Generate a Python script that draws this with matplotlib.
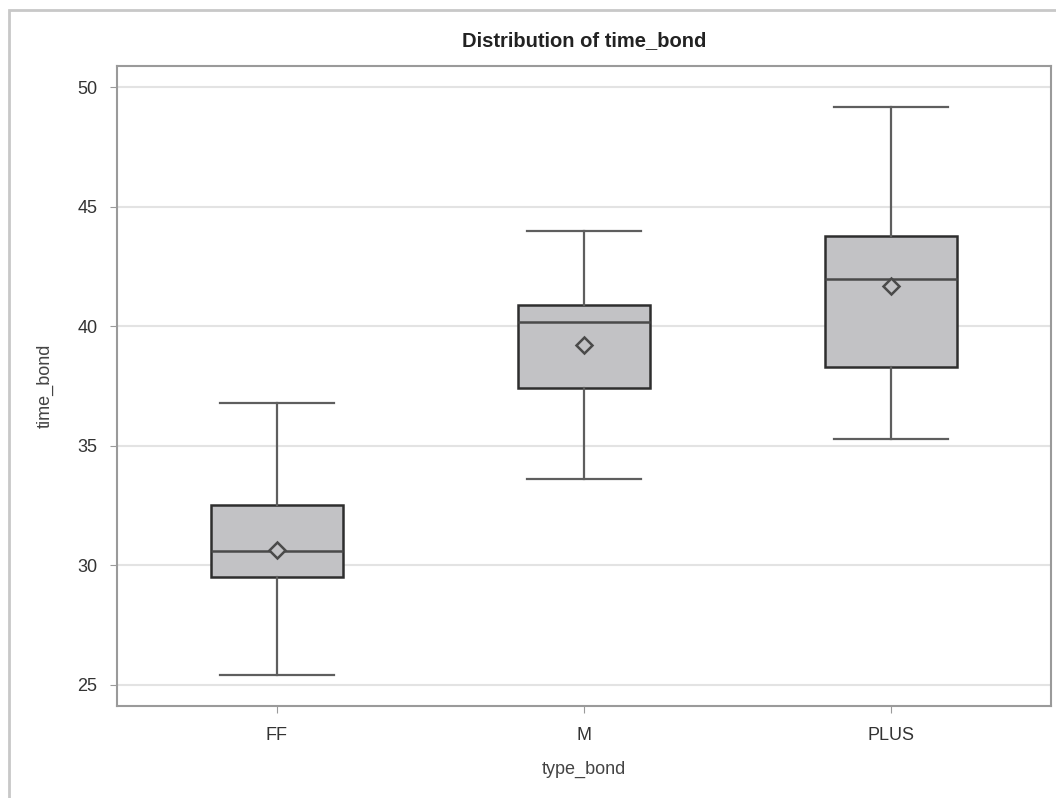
import matplotlib
matplotlib.use("Agg")
import matplotlib.pyplot as plt
from matplotlib.patches import Rectangle

plt.rcParams['font.family'] = ['Liberation Sans Narrow', 'Liberation Sans', 'DejaVu Sans']

categories = ["FF", "M", "PLUS"]
whisker_low = [25.4, 33.6, 35.3]
q1 = [29.5, 37.4, 38.3]
median = [30.6, 40.2, 42.0]
q3 = [32.5, 40.9, 43.8]
whisker_high = [36.8, 44.0, 49.2]
mean = [30.65, 39.2, 41.7]
yticks = [25, 30, 35, 40, 45, 50]

fig = plt.figure(figsize=(10.56, 7.98), dpi=100)
ax = fig.add_axes([117/1056, 1-706/798, (1051-117)/1056, (706-66)/798])

stats = []
for i, c in enumerate(categories):
    stats.append(dict(label=c, whislo=whisker_low[i], q1=q1[i], med=median[i],
                      q3=q3[i], whishi=whisker_high[i], mean=mean[i], fliers=[]))

ax.bxp(stats, positions=range(len(categories)), widths=0.43, patch_artist=True,
       showmeans=True, meanline=False,
       boxprops=dict(facecolor='#c2c2c5', edgecolor='#2e2e2e', linewidth=1.8),
       medianprops=dict(color='#4a4a4a', linewidth=1.8),
       whiskerprops=dict(color='#5e5e5e', linewidth=1.6),
       capprops=dict(color='#5e5e5e', linewidth=1.6),
       capwidths=0.37,
       meanprops=dict(marker='D', markersize=8, markerfacecolor='#c2c2c5',
                      markeredgecolor='#4a4a4a', markeredgewidth=1.8),
       zorder=3)

ax.set_xlim(-0.52, 2.52)
ax.set_ylim(24.1, 50.9)
ax.set_yticks(yticks)
ax.set_xticks(range(len(categories)))
ax.set_xticklabels(categories)
ax.yaxis.grid(True, color='#e3e3e3', linewidth=1.5, zorder=0)
ax.set_axisbelow(True)
for s in ax.spines.values():
    s.set_color('#9a9a9a')
    s.set_linewidth(1.5)
ax.tick_params(axis='both', colors='#9a9a9a', labelcolor='#333333', labelsize=13, length=5)
ax.tick_params(axis='y', pad=9)
ax.tick_params(axis='x', pad=10)
ax.set_xlabel("type_bond", fontsize=13, color='#444444', labelpad=12)
ax.set_ylabel("time_bond", fontsize=13, color='#444444', labelpad=17)
ax.set_title("Distribution of time_bond", fontsize=14.5, fontweight='bold', color='#222222', pad=14)

# outer frame (left and top edges visible in reference)
fig.add_artist(Rectangle((9/1056, -0.05), 1.2, 1 - 10/798 + 0.05, transform=fig.transFigure,
                         fill=False, edgecolor='#c8c8c8', linewidth=2.0))

fig.savefig("out.png", dpi=100)
